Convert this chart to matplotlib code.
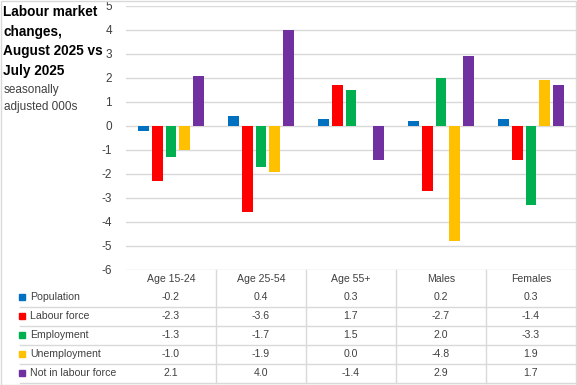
"""
Labour market changes, August 2025 vs July 2025 (seasonally adjusted 000s).
Clustered column chart with an Excel-style data table underneath.
"""

import matplotlib
matplotlib.use("Agg")
import matplotlib.pyplot as plt
from matplotlib.lines import Line2D
from matplotlib.patches import Rectangle

CATEGORIES = ["Age 15-24", "Age 25-54", "Age 55+", "Males", "Females"]
SERIES = ["Population", "Labour force", "Employment", "Unemployment", "Not in labour force"]

POPULATION = [-0.2, 0.4, 0.3, 0.2, 0.3]
LABOUR_FORCE = [-2.3, -3.6, 1.7, -2.7, -1.4]
EMPLOYMENT = [-1.3, -1.7, 1.5, 2.0, -3.3]
UNEMPLOYMENT = [-1.0, -1.9, 0.0, -4.8, 1.9]
NOT_IN_LF = [2.1, 4.0, -1.4, 2.9, 1.7]

YTICKS = [5, 4, 3, 2, 1, 0, -1, -2, -3, -4, -5, -6]

FARGER = ["#0070C0", "#FF0000", "#00B050", "#FFC000", "#7030A0"]
GRID = "#D9D9D9"
TEKST = "#404040"

plt.rcParams["font.family"] = ["Liberation Sans", "DejaVu Sans"]

W, H = 577, 385
fig = plt.figure(figsize=(W / 100, H / 100), dpi=100)

# plot area in pixels
X0, X1 = 126, 576
Y_TOP, Y_BOT = 6, 270
ax = fig.add_axes([X0 / W, 1 - Y_BOT / H, (X1 - X0) / W, (Y_BOT - Y_TOP) / H])

verdier = [POPULATION, LABOUR_FORCE, EMPLOYMENT, UNEMPLOYMENT, NOT_IN_LF]
steg = 0.153
bredde = 0.122
for j, (serie, farge) in enumerate(zip(verdier, FARGER)):
    xs = [i + (j - 2) * steg for i in range(len(CATEGORIES))]
    ax.bar(xs, serie, width=bredde, color=farge, zorder=3)

ax.set_xlim(-0.5, len(CATEGORIES) - 0.5)
ax.set_ylim(-6, 5)
ax.set_yticks(YTICKS)
ax.set_yticklabels([str(t) for t in YTICKS])
ax.tick_params(axis="y", length=0, pad=10, labelsize=8.5, labelcolor=TEKST)
ax.set_xticks([])
for s in ax.spines.values():
    s.set_visible(False)
ax.grid(axis="y", color=GRID, linewidth=1, zorder=0)
ax.set_axisbelow(True)

# --- data table ---
def fy(py):
    return 1 - py / H

def fx(px):
    return px / W

kol_bredde = (X1 - X0) / len(CATEGORIES)
kol_senter = [X0 + kol_bredde * (i + 0.5) for i in range(len(CATEGORIES))]

# vertical column borders (between categories)
for i in range(1, len(CATEGORIES)):
    xx = X0 + kol_bredde * i
    fig.add_artist(Line2D([fx(xx), fx(xx)], [fy(Y_BOT), fy(383)], color=GRID, lw=1))

# horizontal row lines
rad_y = [297, 316, 335, 354, 373]
for ly in [307, 326, 345, 364, 383]:
    fig.add_artist(Line2D([fx(20), fx(X1)], [fy(ly), fy(ly)], color=GRID, lw=1))

TABELL_FS = 7.6
for i, kat in enumerate(CATEGORIES):
    fig.text(fx(kol_senter[i]), fy(279), kat, ha="center", va="center",
             fontsize=TABELL_FS, color=TEKST)

for r, (navn, serie, farge) in enumerate(zip(SERIES, verdier, FARGER)):
    y = rad_y[r]
    fig.add_artist(Rectangle((fx(19), fy(y + 3)), 6 / W, 6 / H, color=farge,
                             transform=fig.transFigure))
    fig.text(fx(30), fy(y), navn, ha="left", va="center", fontsize=TABELL_FS, color=TEKST)
    for i, v in enumerate(serie):
        fig.text(fx(kol_senter[i]), fy(y), f"{v:.1f}", ha="center", va="center",
                 fontsize=TABELL_FS, color=TEKST)

# --- title ---
tittel = ["Labour market", "changes,", "August 2025 vs", "July 2025"]
for k, linje in enumerate(tittel):
    fig.text(fx(3), fy(12 + 19.7 * k), linje, ha="left", va="center",
             fontsize=9.8, fontweight="bold", color="black")
for k, linje in enumerate(["seasonally", "adjusted 000s"]):
    fig.text(fx(4), fy(90 + 17 * k), linje, ha="left", va="center",
             fontsize=8.5, color=TEKST)

# outer chart border
fig.add_artist(Rectangle((0.5 / W, 0.5 / H), (W - 1.5) / W, (H - 1.5) / H,
                         fill=False, edgecolor=GRID, lw=1, transform=fig.transFigure))

fig.savefig("out.png", dpi=100)
